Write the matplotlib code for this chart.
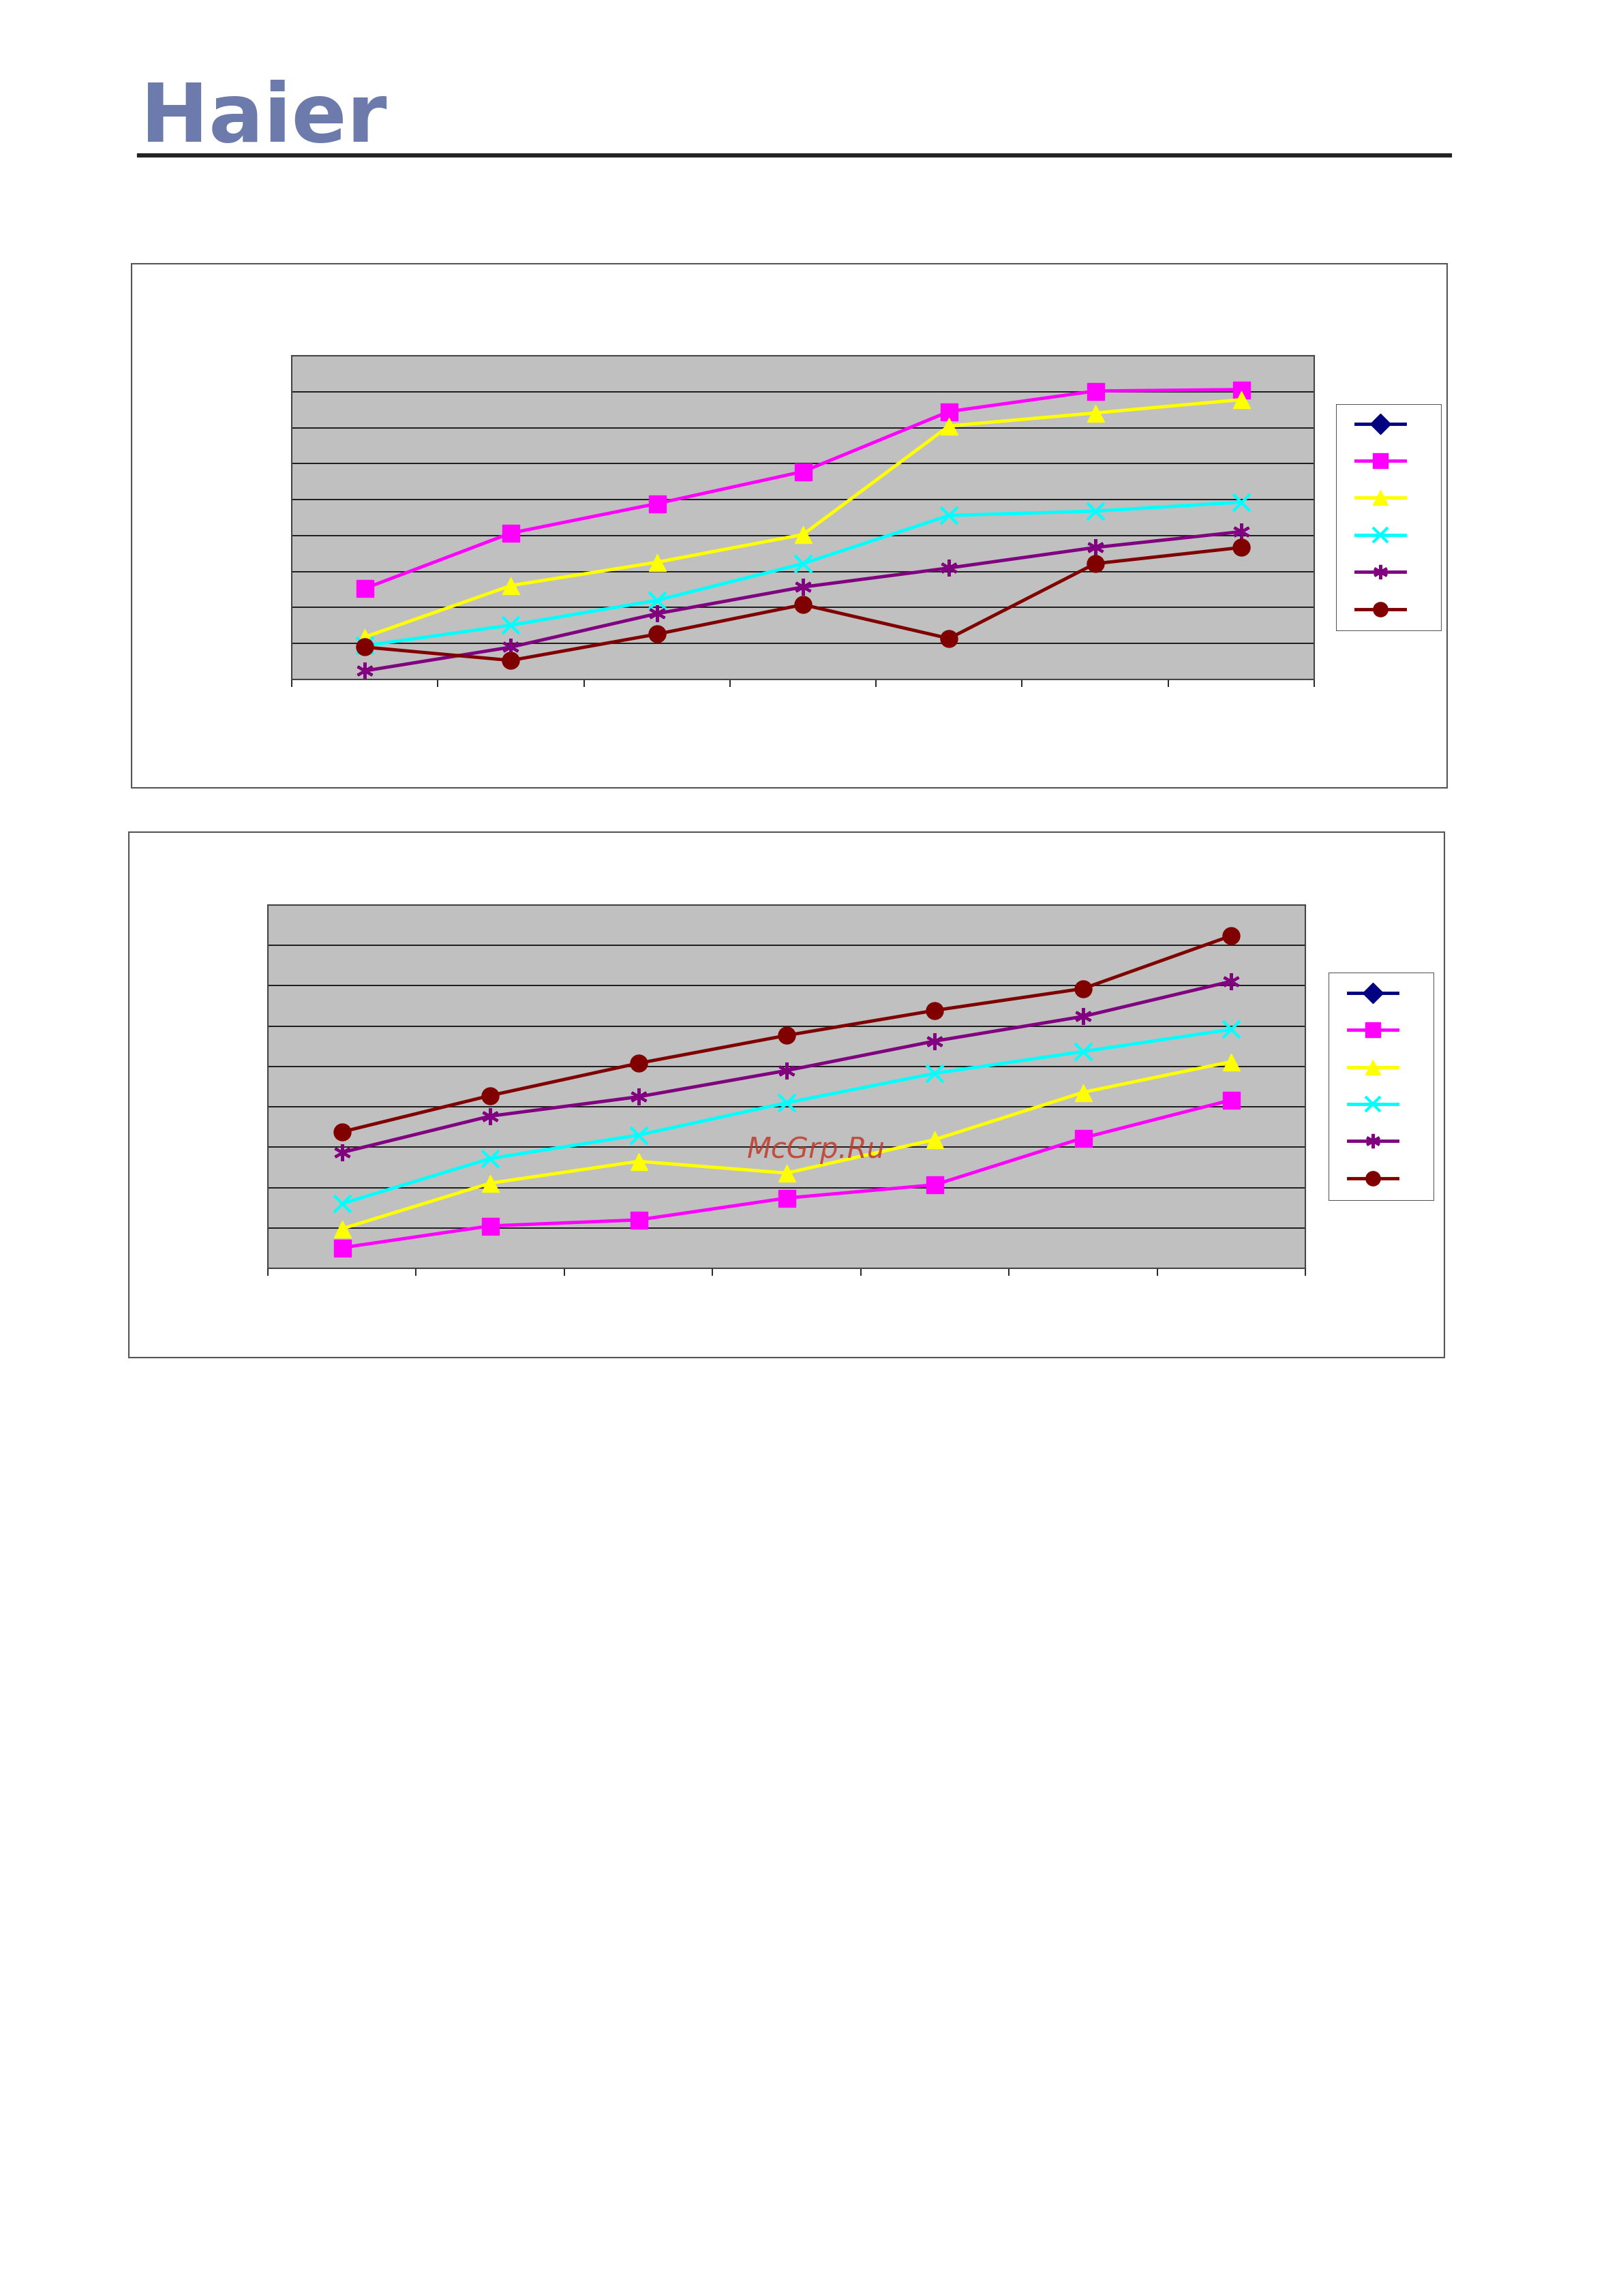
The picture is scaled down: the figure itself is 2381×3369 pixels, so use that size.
import matplotlib
matplotlib.use("Agg")
import matplotlib.pyplot as plt
from matplotlib.patches import Rectangle
from matplotlib.lines import Line2D
import numpy as np

W, H = 2381, 3369
cats = list(range(1, 8))

c1_magenta = [2.53, 4.07, 4.89, 5.78, 7.45, 8.02, 8.06]
c1_yellow = [1.18, 2.61, 3.26, 4.03, 7.05, 7.41, 7.78]
c1_cyan = [0.94, 1.51, 2.20, 3.22, 4.56, 4.68, 4.93]
c1_purple = [0.24, 0.90, 1.83, 2.57, 3.10, 3.67, 4.11]
c1_darkred = [0.90, 0.53, 1.26, 2.08, 1.14, 3.22, 3.67]

c2_magenta = [0.51, 1.05, 1.20, 1.74, 2.07, 3.23, 4.17]
c2_yellow = [0.98, 2.11, 2.65, 2.36, 3.19, 4.36, 5.12]
c2_cyan = [1.60, 2.72, 3.30, 4.10, 4.83, 5.37, 5.92]
c2_purple = [2.87, 3.77, 4.25, 4.90, 5.63, 6.24, 7.11]
c2_darkred = [3.38, 4.28, 5.08, 5.77, 6.39, 6.93, 8.24]

styles = [("#000080", "D"), ("#ff00ff", "s"), ("#ffff00", "^"),
          ("#00ffff", "x"), ("#800080", (6, 2, 0)), ("#800000", "o")]

fig = plt.figure(figsize=(W/100, H/100), dpi=100)

def fa(x0, y0, x1, y1):
    return [x0/W, 1-y1/H, (x1-x0)/W, (y1-y0)/H]

# header
fig.text(206/W, 1-208/H, "Haier", fontsize=86, fontweight="bold", color="#6c7bab",
         va="baseline", ha="left")
fig.add_artist(Line2D([204/W, 2127/W], [1-228/H, 1-228/H], color="#222222", lw=4.5))

def chart(box, plot, leg, series):
    fig.add_artist(Rectangle((box[0]/W, 1-box[3]/H), (box[2]-box[0])/W, (box[3]-box[1])/H,
                             fill=False, ec="#555555", lw=1.5, transform=fig.transFigure))
    ax = fig.add_axes(fa(*plot))
    ax.set_facecolor("#c0c0c0")
    ax.set_xlim(0.5, 7.5); ax.set_ylim(0, 9)
    ax.set_yticks(range(10)); ax.set_yticklabels([])
    ax.yaxis.grid(True, color="black", lw=1.2)
    ax.tick_params(axis="y", length=0)
    ax.set_xticks(np.arange(0.5, 7.6, 1)); ax.set_xticklabels([])
    ax.tick_params(axis="x", length=8, direction="out", width=1.2)
    for s in ax.spines.values():
        s.set_color("#444444"); s.set_linewidth(1.5)
    handles = []
    for (col, mk), vals in zip(styles, series):
        mew = 3 if mk in ("x", (6, 2, 0)) else 1
        h, = ax.plot(cats, vals if vals is not None else [np.nan]*7, color=col, marker=mk,
                     markersize=18, lw=3.5, mew=mew, mec=col, clip_on=False)
        handles.append(h)
    lax = fig.add_axes(fa(*leg)); lax.axis("off")
    lax.add_patch(Rectangle((0, 0), 1, 1, fill=False, ec="#555555", lw=1.5, transform=lax.transAxes))
    lax.legend(handles, [" "]*6, loc="center", frameon=False, handlelength=3.2,
               labelspacing=1.55, fontsize=16, markerscale=0.85)
    return ax

chart((193, 387, 2123, 1156), (428, 522, 1928, 997), (1960, 593, 2115, 926),
      [None, c1_magenta, c1_yellow, c1_cyan, c1_purple, c1_darkred])
chart((189, 1221, 2119, 1992), (393, 1328, 1915, 1861), (1949, 1427, 2104, 1762),
      [None, c2_magenta, c2_yellow, c2_cyan, c2_purple, c2_darkred])

fig.text(1197/W, 1-1687/H, "McGrp.Ru", fontsize=30, color="#c0392b", ha="center",
         va="center", style="italic", alpha=0.85)

fig.savefig("out.png", dpi=100)
